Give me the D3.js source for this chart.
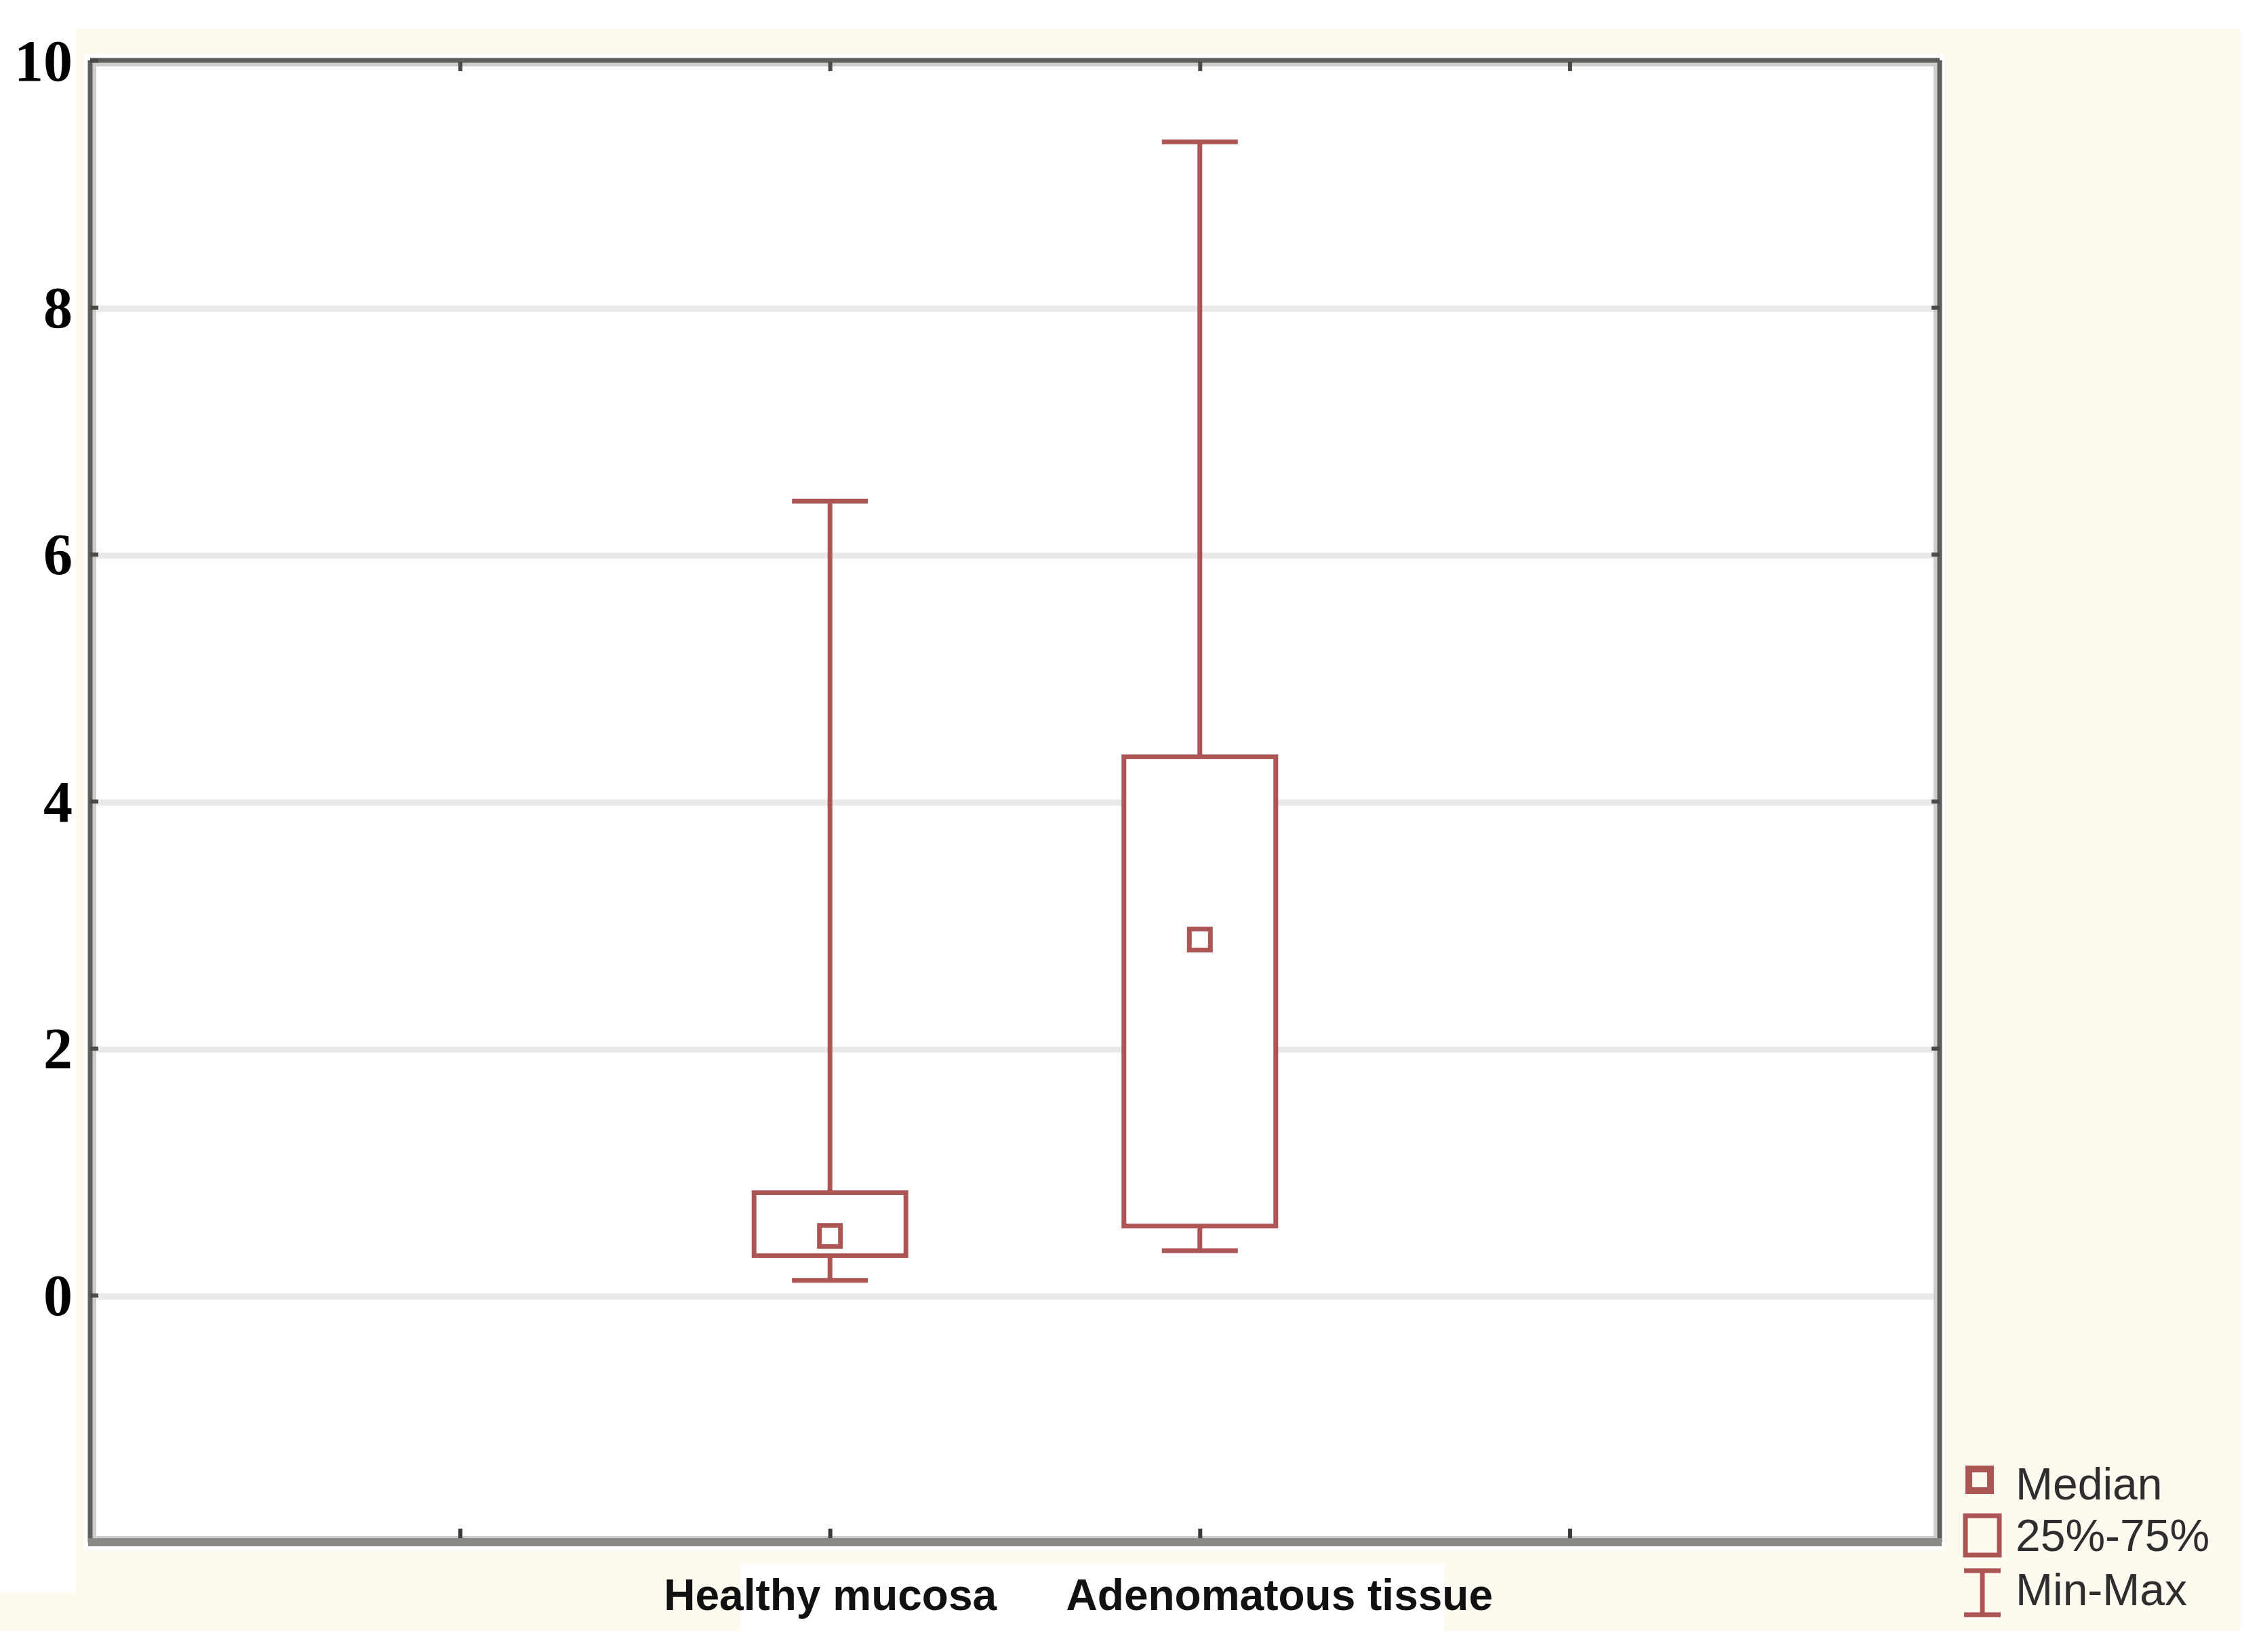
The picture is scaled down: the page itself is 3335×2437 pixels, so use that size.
<!DOCTYPE html>
<html>
<head>
<meta charset="utf-8">
<script src="https://cdn.jsdelivr.net/npm/d3@7"></script>
<style>
  body { margin: 0; background: #ffffff; }
  svg { display: block; }
</style>
</head>
<body>
<svg></svg>
<script>
// values
const categories = ['Healthy mucosa', 'Adenomatous tissue']
const mins = [0.12, 0.36]
const q1s = [0.32, 0.56]
const medians = [0.48, 2.88]
const q3s = [0.83, 4.36]
const maxs = [6.43, 9.34]
const yTicks = [0, 2, 4, 6, 8, 10]
const legendLabels = ['Median', '25%-75%', 'Min-Max']

const width = 3335
const height = 2437
const plot = { left: 133, right: 2861, top: 89, bottom: 2275 }
const red = '#ab5555'
const cream = '#fffaef'

const svg = d3.select('svg')
  .attr('width', width)
  .attr('height', height)

// slots: blank, the two groups, blank (gives ticks at 1..4 of 5)
const slots = ['', ...categories, ' ']
const xScale = d3.scalePoint()
  .domain(slots)
  .range([plot.left, plot.right])
  .padding(1)

const yScale = d3.scaleLinear()
  .domain([-2, 10])
  .range([plot.bottom, plot.top])

// backgrounds (the picture is a pasted screenshot on cream)
svg.append('rect').attr('x', 112).attr('y', 42).attr('width', 3305 - 112).attr('height', 2406 - 42).attr('fill', cream)
svg.append('rect').attr('x', 0).attr('y', 2349).attr('width', 112).attr('height', 2406 - 2349).attr('fill', cream)
svg.append('rect').attr('x', 124).attr('y', 80).attr('width', 2868 - 124).attr('height', 2287 - 80).attr('fill', '#fff')
svg.append('rect').attr('x', 1092).attr('y', 2307).attr('width', 2130 - 1092).attr('height', 100).attr('fill', '#fff')

// gridlines
svg.append('g')
  .selectAll('line')
  .data(yTicks.filter(d => d < 10))
  .enter()
  .append('line')
  .attr('x1', plot.left)
  .attr('x2', plot.right)
  .attr('y1', d => yScale(d) + 2)
  .attr('y2', d => yScale(d) + 2)
  .attr('stroke', '#e9e9e9')
  .attr('stroke-width', 9)

// frame: light inner shade, then dark lines
svg.append('rect')
  .attr('x', plot.left + 6).attr('y', plot.top + 6)
  .attr('width', plot.right - plot.left - 12)
  .attr('height', plot.bottom - plot.top - 12)
  .attr('fill', 'none')
  .attr('stroke', '#cdcdcd')
  .attr('stroke-width', 6)

const frame = svg.append('g').attr('stroke', '#5e5e5a').attr('stroke-width', 7)
frame.append('line').attr('x1', plot.left).attr('x2', plot.right).attr('y1', plot.top).attr('y2', plot.top)
frame.append('line').attr('x1', plot.left).attr('x2', plot.left).attr('y1', plot.top).attr('y2', plot.bottom)
frame.append('line').attr('x1', plot.right).attr('x2', plot.right).attr('y1', plot.top).attr('y2', plot.bottom)
svg.append('line')
  .attr('x1', plot.left - 3).attr('x2', plot.right + 3)
  .attr('y1', plot.bottom).attr('y2', plot.bottom)
  .attr('stroke', '#8b8986').attr('stroke-width', 12)

// axes
const yAxis = d3.axisLeft(yScale)
  .tickValues(yTicks)
  .tickSizeInner(-12)
  .tickSizeOuter(0)
  .tickPadding(30)

const gy = svg.append('g')
  .attr('transform', `translate(${plot.left}, 0)`)
  .call(yAxis)
gy.select('.domain').remove()
gy.selectAll('.tick line').attr('stroke', '#4a4a46').attr('stroke-width', 6)
gy.selectAll('.tick text')
  .attr('x', -26)
  .attr('dy', '0.34em')
  .attr('fill', '#000')
  .style('font-family', '"Liberation Serif", serif')
  .style('font-weight', 'bold')
  .style('font-size', '86px')

const yAxisRight = d3.axisRight(yScale)
  .tickValues(yTicks.filter(d => d > 0 && d < 10))
  .tickSizeInner(-12)
  .tickSizeOuter(0)
  .tickFormat('')
const gyr = svg.append('g')
  .attr('transform', `translate(${plot.right}, 0)`)
  .call(yAxisRight)
gyr.select('.domain').remove()
gyr.selectAll('.tick line').attr('stroke', '#4a4a46').attr('stroke-width', 6)

const xAxis = d3.axisBottom(xScale)
  .tickSizeInner(-14)
  .tickSizeOuter(0)

const gx = svg.append('g')
  .attr('transform', `translate(0, ${plot.bottom - 6})`)
  .call(xAxis)
gx.select('.domain').remove()
gx.selectAll('.tick line').attr('stroke', '#3a3a38').attr('stroke-width', 6)
gx.selectAll('.tick text')
  .attr('y', 106)
  .attr('dy', 0)
  .attr('dx', (d, i) => i === 2 ? 117 : 0)
  .attr('fill', '#111')
  .style('font-family', '"Liberation Sans", Arial, sans-serif')
  .style('font-weight', 'bold')
  .style('font-size', '64px')

const xAxisTop = d3.axisTop(xScale)
  .tickSizeInner(-14)
  .tickSizeOuter(0)
  .tickFormat('')
const gxt = svg.append('g')
  .attr('transform', `translate(0, ${plot.top + 2})`)
  .call(xAxisTop)
gxt.select('.domain').remove()
gxt.selectAll('.tick line').attr('stroke', '#4a4a46').attr('stroke-width', 6)

// boxes
const boxHalf = 112
const capHalf = 56
const medSize = 31
const boxes = svg.append('g')
  .selectAll('g')
  .data(categories)
  .enter()
  .append('g')
  .attr('fill', 'none')
  .attr('stroke', red)
  .attr('stroke-width', 7)

boxes.append('line')
  .attr('x1', d => xScale(d)).attr('x2', d => xScale(d))
  .attr('y1', (d, i) => yScale(maxs[i])).attr('y2', (d, i) => yScale(q3s[i]))
boxes.append('line')
  .attr('x1', d => xScale(d)).attr('x2', d => xScale(d))
  .attr('y1', (d, i) => yScale(q1s[i])).attr('y2', (d, i) => yScale(mins[i]))
boxes.append('line')
  .attr('x1', d => xScale(d) - capHalf).attr('x2', d => xScale(d) + capHalf)
  .attr('y1', (d, i) => yScale(maxs[i])).attr('y2', (d, i) => yScale(maxs[i]))
boxes.append('line')
  .attr('x1', d => xScale(d) - capHalf).attr('x2', d => xScale(d) + capHalf)
  .attr('y1', (d, i) => yScale(mins[i])).attr('y2', (d, i) => yScale(mins[i]))
boxes.append('rect')
  .attr('x', d => xScale(d) - boxHalf)
  .attr('width', boxHalf * 2)
  .attr('y', (d, i) => yScale(q3s[i]))
  .attr('height', (d, i) => yScale(q1s[i]) - yScale(q3s[i]))
  .attr('fill', '#fff')
boxes.append('rect')
  .attr('x', d => xScale(d) - medSize / 2)
  .attr('width', medSize)
  .attr('y', (d, i) => yScale(medians[i]) - medSize / 2)
  .attr('height', medSize)
  .attr('fill', '#fff')

// legend
const legend = svg.append('g').attr('transform', 'translate(2893, 0)')
const rowY = [2212, 2288, 2368]
legend.selectAll('text')
  .data(legendLabels)
  .enter()
  .append('text')
  .text(d => d)
  .attr('x', 80)
  .attr('y', (d, i) => rowY[i])
  .attr('fill', '#2e2e2e')
  .style('font-family', '"Liberation Sans", Arial, sans-serif')
  .style('font-size', '66px')

legend.append('rect')
  .attr('x', 11).attr('y', 2167).attr('width', 32).attr('height', 32)
  .attr('fill', 'none').attr('stroke', red).attr('stroke-width', 10)
legend.append('rect')
  .attr('x', 6).attr('y', 2236).attr('width', 50).attr('height', 58)
  .attr('fill', 'none').attr('stroke', red).attr('stroke-width', 7)
const ibeam = legend.append('g').attr('stroke', red).attr('stroke-width', 7)
ibeam.append('line').attr('x1', 4).attr('x2', 58).attr('y1', 2317).attr('y2', 2317)
ibeam.append('line').attr('x1', 4).attr('x2', 58).attr('y1', 2382).attr('y2', 2382)
ibeam.append('line').attr('x1', 31).attr('x2', 31).attr('y1', 2317).attr('y2', 2382)
</script>
</body>
</html>
